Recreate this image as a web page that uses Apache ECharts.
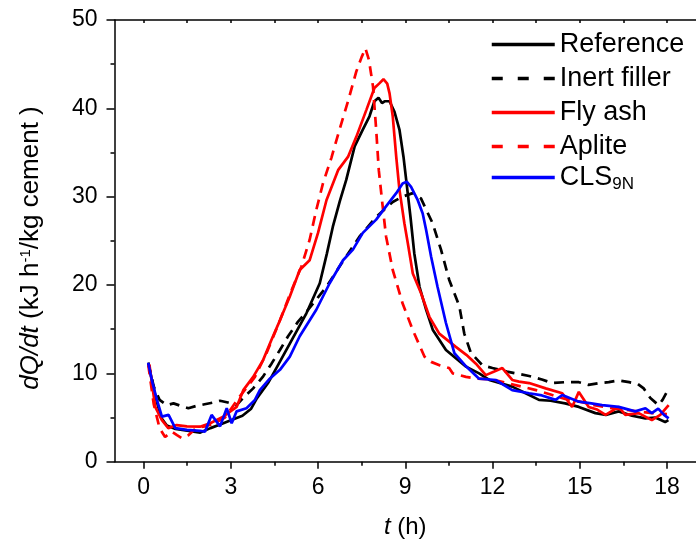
<!DOCTYPE html>
<html><head><meta charset="utf-8">
<script src="https://cdn.jsdelivr.net/npm/echarts@6/dist/echarts.min.js"></script>
<style>html,body{margin:0;padding:0;background:#fff}#c{width:696px;height:549px}</style>
</head><body><div id="c"></div>
<script>
const seriesNames = ['Reference', 'Inert filler', 'Fly ash', 'Aplite', 'CLS9N'];

const refT = [0.16,0.4,0.6,0.8,1.1,1.5,1.95,2.3,2.7,3.0,3.4,3.7,3.9,4.3,4.6,5.1,5.6,6.06,6.3,6.51,6.75,6.97,7.26,7.54,7.77,7.94,8.08,8.2,8.29,8.46,8.63,8.8,8.94,9.06,9.18,9.31,9.49,9.72,9.95,10.4,11.09,11.54,11.89,12.68,13.14,13.6,14.0,14.5,14.97,15.54,15.9,16.34,16.8,17.26,17.6,17.94,18.05];
const refV = [11.2,7.5,5.0,4.1,3.7,3.5,3.3,3.8,4.3,4.7,5.2,6.0,7.2,9.0,10.8,13.8,16.8,20.2,23.5,26.6,29.5,31.9,35.7,37.6,39.1,40.8,41.2,40.6,40.8,40.8,39.6,37.6,34.5,31.1,27.7,23.6,19.8,17.2,14.9,12.65,10.76,10.0,9.25,8.5,7.75,7.0,6.9,6.6,6.2,5.5,5.3,5.7,5.2,4.9,5.0,4.5,4.7];

const inertT = [0.16,0.35,0.55,0.8,1.03,1.3,1.54,1.8,2.1,2.4,2.63,2.9,3.2,3.45,3.77,4.1,4.4,4.69,4.97,5.3,5.66,6.0,6.29,6.8,7.43,8.0,8.3,8.57,8.9,9.26,9.54,9.94,10.23,10.51,10.86,11.03,11.26,11.49,11.66,12.0,12.5,13.26,13.7,14.06,14.5,14.97,15.3,15.66,16.0,16.34,16.7,17.0,17.2,17.43,17.71,17.85,18.0];
const inertV = [11.2,8.5,7.0,6.4,6.6,6.3,6.05,6.3,6.5,6.7,6.9,6.7,6.4,7.3,8.3,9.6,11.1,12.65,14.2,15.8,17.2,18.6,19.8,22.4,25.5,27.7,28.6,29.4,30.0,30.4,29.8,27.0,24.0,20.6,17.6,14.5,12.3,11.5,10.9,10.6,10.2,9.7,9.3,8.9,9.0,9.0,8.7,8.9,9.0,9.2,9.0,8.8,8.3,7.2,6.4,7.0,7.9];

const flyT = [0.2,0.4,0.63,0.85,1.14,1.49,1.94,2.29,2.74,3.2,3.43,3.77,4.11,4.4,4.69,5.03,5.37,5.71,6.0,6.29,6.69,7.03,7.32,7.66,7.94,8.1,8.25,8.38,8.46,8.57,8.69,8.8,8.97,9.09,9.26,9.54,9.83,10.17,10.74,11.1,11.43,11.77,12.06,12.34,12.68,12.91,13.26,13.83,14.4,14.74,14.97,15.31,15.6,15.89,16.34,16.57,17.03,17.48,17.77,18.06];
const flyV = [11.0,6.2,4.7,3.8,4.15,4.0,3.96,4.35,5.1,6.2,8.1,9.6,11.5,13.8,16.0,18.7,21.7,22.8,25.9,29.6,33.0,34.5,36.8,39.8,42.3,42.8,43.3,42.8,41.7,39.1,34.5,30.8,27.0,24.7,21.3,19.1,16.4,14.5,13.0,12.1,11.1,9.8,10.2,10.6,9.25,9.06,8.9,8.3,7.75,6.2,7.9,6.2,5.9,5.3,6.2,5.3,5.5,4.7,5.3,6.4];

const apliteT = [0.16,0.35,0.55,0.74,0.97,1.15,1.32,1.54,1.8,2.1,2.4,2.8,3.31,3.6,3.83,4.23,4.69,5.1,5.43,5.71,5.94,6.17,6.46,6.74,7.03,7.32,7.5,7.63,7.75,7.89,8.0,8.09,8.21,8.34,8.57,8.91,9.26,9.66,9.89,10.2,10.51,10.63,11.09,11.5,12.0,12.5,13.0,13.5,14.0,14.5,15.0,15.5,16.0,16.5,17.0,17.5,18.0];
const apliteV = [11.0,6.5,3.8,2.8,3.4,3.0,2.65,3.0,3.8,4.0,4.3,5.0,7.4,8.6,9.6,12.3,16.0,19.5,22.1,25.1,28.5,31.5,34.4,37.6,40.8,44.2,45.8,46.8,45.5,42.5,37.6,33.0,29.3,25.5,21.7,17.9,14.9,11.9,11.3,10.9,10.6,10.0,9.6,9.4,9.3,8.9,8.5,8.1,7.6,7.1,6.8,6.4,6.1,5.9,5.7,5.5,5.4];

const clsT = [0.16,0.3,0.46,0.63,0.86,1.09,1.49,1.94,2.11,2.34,2.63,2.86,3.03,3.2,3.54,3.83,4.0,4.34,4.69,5.03,5.37,5.94,6.4,6.86,7.2,7.54,8.0,8.34,8.69,8.91,9.05,9.2,9.43,9.6,9.72,9.89,10.11,10.4,10.69,11.09,11.54,12.11,12.68,13.26,13.7,14.17,14.4,14.97,15.4,15.77,16.34,16.91,17.26,17.48,17.7,17.9,18.06];
const clsV = [11.2,9.0,7.0,5.1,5.3,3.8,3.6,3.5,3.4,5.3,4.0,6.05,4.35,5.7,6.05,7.0,8.1,9.4,10.4,11.9,14.2,17.2,20.2,22.8,24.0,25.9,27.4,28.9,30.4,31.5,31.7,31.1,29.6,28.1,26.2,23.2,19.8,15.7,12.3,10.8,9.4,9.25,8.1,7.75,7.5,7.0,7.55,6.8,6.6,6.4,6.2,5.7,6.05,5.5,6.0,5.3,4.9];

const xMajorTicks = [0, 3, 6, 9, 12, 15, 18];
const xMinorTicks = [1.5, 4.5, 7.5, 10.5, 13.5, 16.5];
const xAllTicks = [0, 1.5, 3, 4.5, 6, 7.5, 9, 10.5, 12, 13.5, 15, 16.5, 18];

function zip(t, v) { return t.map((x, i) => [x, v[i]]); }
const FONT = "'Liberation Sans', Arial, sans-serif";
const AX = { color: '#000', width: 1.5 };

const chart = echarts.init(document.getElementById('c'), null, { renderer: 'canvas' });

function lineSeries(name, t, v, color, dashed) {
  return {
    name: name, type: 'line', xAxisIndex: 0, yAxisIndex: 0,
    data: zip(t, v), showSymbol: false, symbol: 'none', smooth: false,
    lineStyle: { color: color, width: 2.7, type: dashed ? [10, 7] : 'solid' },
    itemStyle: { color: color }, z: 3
  };
}

const legendText = { color: '#000', fontSize: 27, fontFamily: FONT,
  rich: { a: { fontSize: 27, fontFamily: FONT, color: '#000' },
          b: { fontSize: 17, fontFamily: FONT, color: '#000', verticalAlign: 'bottom', padding: [14, 0, 0, 0] } } };

function legendItem(name, dashed) {
  return { name: name, lineStyle: { width: 3.5, type: dashed ? [11, 15] : 'solid' } };
}

const option = {
  animation: false,
  backgroundColor: '#fff',
  grid: { left: 114.5, right: -2, top: 20, bottom: 87.3, containLabel: false },
  xAxis: [
    {
      type: 'value', min: -1, max: 19, position: 'bottom',
      axisLine: { onZero: false, lineStyle: AX },
      axisTick: { show: true, customValues: xMajorTicks, length: 7, inside: false, lineStyle: AX },
      axisLabel: { customValues: xMajorTicks, color: '#000', fontSize: 23, fontFamily: FONT, margin: 14 },
      splitLine: { show: false },
      name: '{i|t} (h)', nameLocation: 'middle', nameGap: 54,
      nameTextStyle: { color: '#000', fontSize: 24, fontFamily: FONT,
        rich: { i: { fontStyle: 'italic', fontSize: 24, fontFamily: FONT, color: '#000' } } }
    },
    {
      type: 'value', min: -1, max: 19, position: 'bottom',
      axisLine: { show: false, onZero: false },
      axisTick: { show: true, customValues: xMinorTicks, length: 4, inside: false, lineStyle: AX },
      axisLabel: { show: false }, splitLine: { show: false }
    },
    {
      type: 'value', min: -1, max: 19, position: 'top',
      axisLine: { show: true, onZero: false, lineStyle: AX },
      axisTick: { show: true, customValues: xAllTicks, length: 3, inside: true, lineStyle: AX },
      axisLabel: { show: false }, splitLine: { show: false }
    }
  ],
  yAxis: [{
    type: 'value', min: 0, max: 50, interval: 10,
    axisLine: { show: true, onZero: false, lineStyle: AX },
    axisTick: { show: true, length: 8, inside: false, lineStyle: AX },
    minorTick: { show: true, splitNumber: 2, length: 4, lineStyle: AX },
    axisLabel: { color: '#000', fontSize: 23, fontFamily: FONT, margin: 17 },
    splitLine: { show: false }, minorSplitLine: { show: false }
  }],
  legend: [
    {
      orient: 'vertical', left: 490, top: 31, padding: 0,
      itemWidth: 63, itemHeight: 14, itemGap: 7,
      itemStyle: { opacity: 0 },
      data: [legendItem(seriesNames[0], false), legendItem(seriesNames[1], true),
             legendItem(seriesNames[2], false), legendItem(seriesNames[3], true)],
      textStyle: legendText
    },
    {
      orient: 'vertical', left: 490, top: 164, padding: 0,
      itemWidth: 63, itemHeight: 14, itemGap: 7,
      itemStyle: { opacity: 0 },
      data: [legendItem(seriesNames[4], false)],
      formatter: function (n) { return n === 'CLS9N' ? '{a|CLS}{b|9N}' : n; },
      textStyle: legendText
    }
  ],
  graphic: [{
    type: 'text', rotation: Math.PI / 2, x: 31, y: 248,
    style: {
      text: '{i|dQ/dt} (kJ h{s|-1}/kg cement )',
      fill: '#000', fontSize: 26, fontFamily: FONT, align: 'center', verticalAlign: 'middle',
      rich: {
        i: { fontStyle: 'italic', fontSize: 26, fontFamily: FONT, fill: '#000' },
        s: { fontSize: 15, fontFamily: FONT, fill: '#000', verticalAlign: 'top', padding: [0, 0, 10, 0] }
      }
    }
  }],
  series: [
    lineSeries('Reference', refT, refV, '#000000', false),
    lineSeries('Inert filler', inertT, inertV, '#000000', true),
    lineSeries('Fly ash', flyT, flyV, '#ff0000', false),
    lineSeries('Aplite', apliteT, apliteV, '#ff0000', true),
    lineSeries('CLS9N', clsT, clsV, '#0000ff', false)
  ]
};
chart.setOption(option);
</script></body></html>
